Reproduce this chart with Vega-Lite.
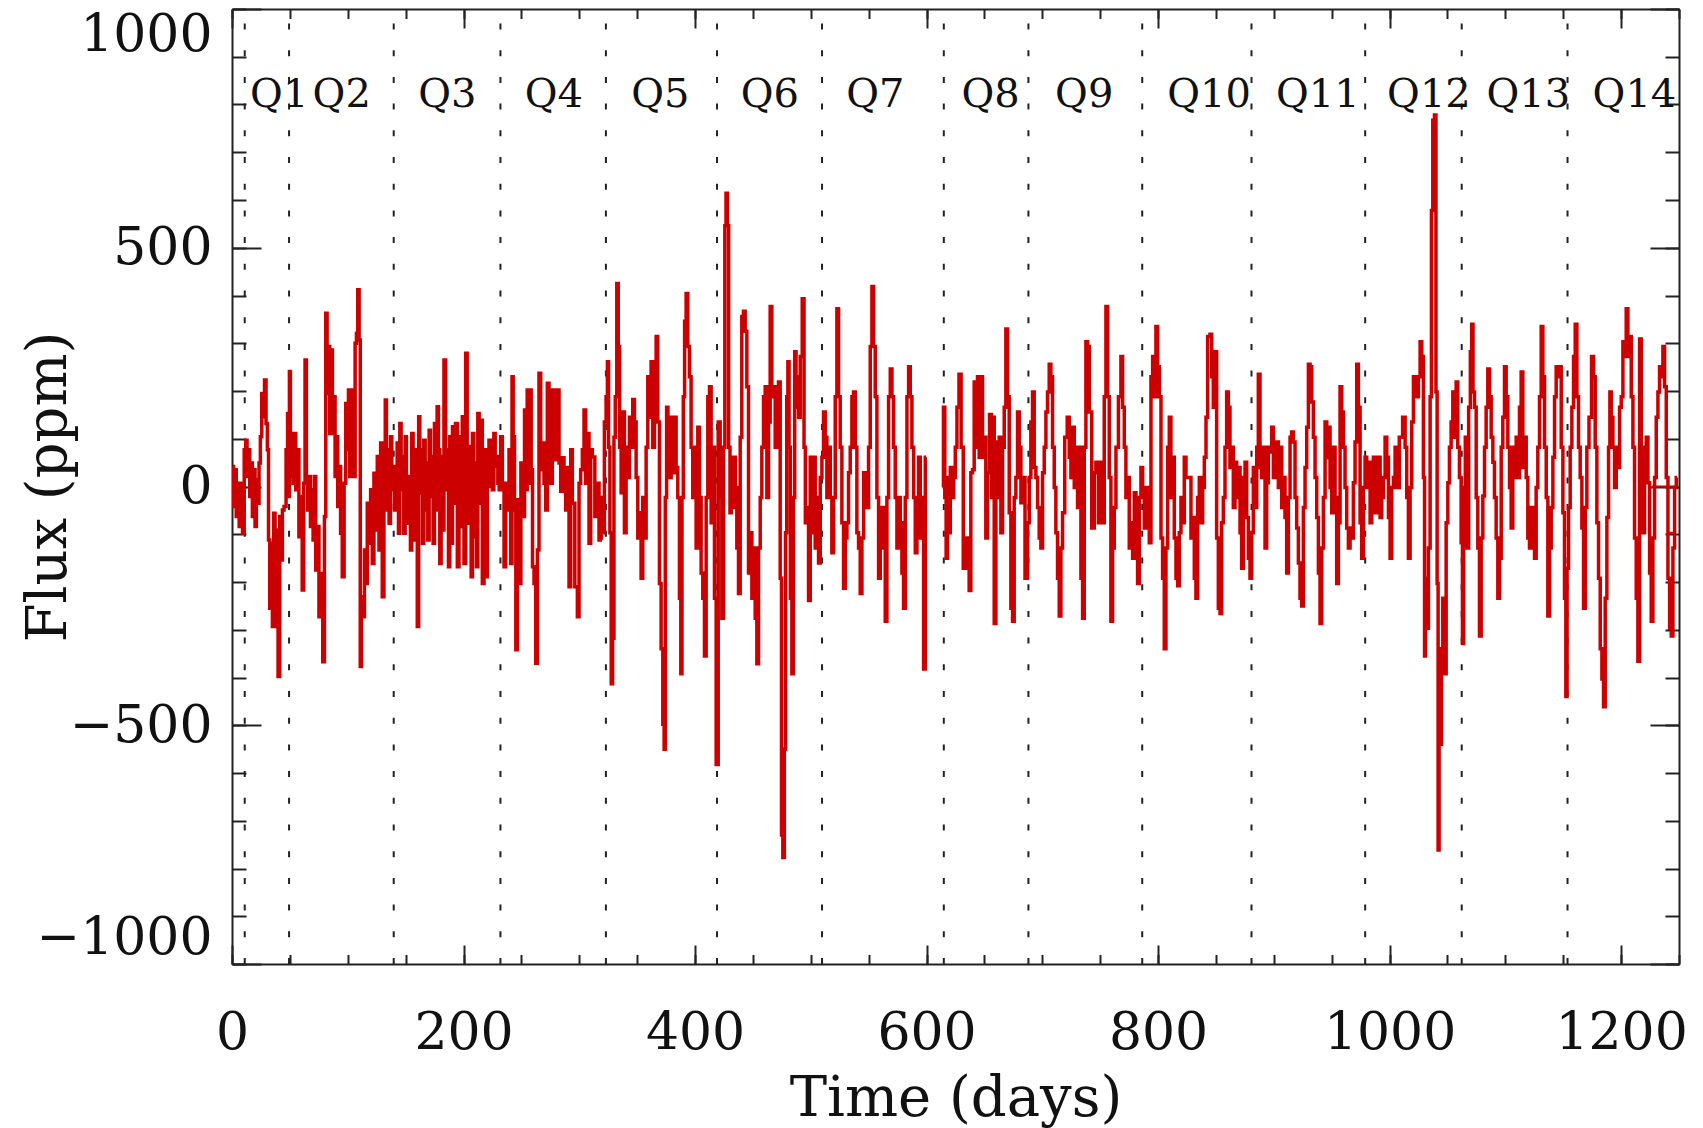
{
  "$schema": "https://vega.github.io/schema/vega-lite/v6.json",
  "width": 1447,
  "height": 955,
  "autosize": {"type": "none"},
  "padding": {"left": 232, "top": 9, "right": 24, "bottom": 164},
  "background": "white",
  "config": {
    "view": {"stroke": null},
    "font": "DejaVu Serif",
    "axis": {
      "grid": false,
      "domainColor": "#222222",
      "tickColor": "#222222",
      "labelColor": "#111111",
      "titleColor": "#111111",
      "labelFont": "DejaVu Serif",
      "titleFont": "DejaVu Serif",
      "labelFontSize": 52,
      "titleFontSize": 56,
      "titleFontWeight": "normal",
      "labelLimit": 500,
      "domainWidth": 2,
      "tickWidth": 2
    }
  },
  "datasets": {
    "quarters": [
      {"day": 11.0}, {"day": 49.3}, {"day": 139.7}, {"day": 231.9}, {"day": 323.0}, {"day": 419.0}, {"day": 509.7},
      {"day": 614.9}, {"day": 688.0}, {"day": 786.3}, {"day": 880.7}, {"day": 978.9}, {"day": 1062.3}, {"day": 1153.7}
    ],
    "qlabels": [
      {"qx": 40.8, "q": "Q1"}, {"qx": 94.8, "q": "Q2"}, {"qx": 186, "q": "Q3"}, {"qx": 278, "q": "Q4"},
      {"qx": 370, "q": "Q5"}, {"qx": 464.7, "q": "Q6"}, {"qx": 555.8, "q": "Q7"}, {"qx": 655.3, "q": "Q8"},
      {"qx": 736.2, "q": "Q9"}, {"qx": 844, "q": "Q10"}, {"qx": 938, "q": "Q11"}, {"qx": 1034, "q": "Q12"},
      {"qx": 1119.8, "q": "Q13"}, {"qx": 1211.5, "q": "Q14"}
    ],
    "marks": [
      {"x0": 1226.7, "x1": 1248.4, "v": 0},
      {"x0": 1239.7, "x1": 1246.9, "v": -97}
    ],
    "flux": [
      {"t":0.9,"f":42,"s":1},{"t":1.8,"f":-42,"s":1},{"t":2.9,"f":35,"s":1},{"t":4.4,"f":-63,"s":1},{"t":5.5,"f":7,"s":1},{"t":6.9,"f":-84,"s":1},{"t":8.4,"f":7,"s":1},{"t":9.8,"f":-98,"s":1},{"t":11.3,"f":77,"s":1},{"t":12.4,"f":97,"s":1},
      {"t":13.6,"f":21,"s":1},{"t":14.7,"f":77,"s":1},{"t":15.9,"f":-21,"s":1},{"t":17.0,"f":49,"s":1},{"t":18.2,"f":-63,"s":1},{"t":19.3,"f":35,"s":1},{"t":20.5,"f":-84,"s":1},{"t":21.6,"f":14,"s":1},{"t":22.8,"f":-35,"s":1},{"t":23.9,"f":49,"s":1},
      {"t":25.1,"f":104,"s":1},{"t":26.3,"f":195,"s":1},{"t":27.4,"f":146,"s":1},{"t":28.8,"f":223,"s":1},{"t":30.0,"f":132,"s":1},{"t":31.1,"f":77,"s":1},{"t":32.0,"f":-112,"s":1},{"t":33.2,"f":-255,"s":1},{"t":34.3,"f":-119,"s":1},{"t":35.5,"f":-293,"s":1},
      {"t":36.6,"f":-56,"s":1},{"t":37.8,"f":-293,"s":1},{"t":38.9,"f":-91,"s":1},{"t":40.7,"f":-398,"s":1},{"t":41.8,"f":-63,"s":1},{"t":43.0,"f":-154,"s":1},{"t":44.1,"f":-49,"s":1},{"t":45.8,"f":-42,"s":1},{"t":47.6,"f":77,"s":1},{"t":48.4,"f":153,"s":1},
      {"t":49.3,"f":-21,"s":1},{"t":49.9,"f":241,"s":1},{"t":51.0,"f":21,"s":1},{"t":52.2,"f":111,"s":1},{"t":53.3,"f":7,"s":1},{"t":54.5,"f":111,"s":1},{"t":55.6,"f":-7,"s":1},{"t":57.1,"f":77,"s":1},{"t":58.5,"f":-105,"s":1},{"t":59.9,"f":-21,"s":1},
      {"t":61.4,"f":-217,"s":1},{"t":62.5,"f":7,"s":1},{"t":63.7,"f":265,"s":1},{"t":64.8,"f":7,"s":1},{"t":66.0,"f":-49,"s":1},{"t":67.2,"f":21,"s":1},{"t":68.3,"f":-84,"s":1},{"t":69.5,"f":-7,"s":1},{"t":70.6,"f":-112,"s":1},{"t":71.8,"f":21,"s":1},
      {"t":72.9,"f":-175,"s":1},{"t":74.4,"f":-84,"s":1},{"t":75.8,"f":-273,"s":1},{"t":77.5,"f":-182,"s":1},{"t":79.3,"f":-367,"s":1},{"t":80.4,"f":-63,"s":1},{"t":81.6,"f":363,"s":1},{"t":82.7,"f":195,"s":1},{"t":83.9,"f":293,"s":1},{"t":85.0,"f":111,"s":1},
      {"t":86.2,"f":286,"s":1},{"t":87.3,"f":111,"s":1},{"t":88.5,"f":188,"s":1},{"t":89.6,"f":21,"s":1},{"t":90.8,"f":104,"s":1},{"t":91.9,"f":-42,"s":1},{"t":93.1,"f":42,"s":1},{"t":94.5,"f":-98,"s":1},{"t":96.0,"f":-189,"s":1},{"t":97.7,"f":7,"s":1},
      {"t":98.8,"f":174,"s":1},{"t":100.0,"f":77,"s":1},{"t":101.2,"f":202,"s":1},{"t":102.3,"f":21,"s":1},{"t":103.5,"f":104,"s":1},{"t":104.6,"f":202,"s":1},{"t":105.8,"f":21,"s":1},{"t":106.9,"f":300,"s":1},{"t":108.1,"f":321,"s":1},{"t":109.2,"f":412,"s":1},
      {"t":110.4,"f":307,"s":1},{"t":111.2,"f":-377,"s":1},{"t":112.4,"f":-231,"s":1},{"t":113.8,"f":-273,"s":1},{"t":115.0,"f":-133,"s":1},{"t":116.1,"f":-203,"s":1},{"t":117.6,"f":-35,"s":1},{"t":119.0,"f":-119,"s":1},{"t":120.5,"f":-7,"s":1},{"t":121.9,"f":-161,"s":1},
      {"t":123.3,"f":28,"s":1},{"t":124.8,"f":-91,"s":1},{"t":126.2,"f":63,"s":1},{"t":127.7,"f":-133,"s":1},{"t":129.1,"f":91,"s":1},{"t":130.5,"f":-231,"s":1},{"t":132.0,"f":14,"s":1},{"t":132.8,"f":181,"s":1},{"t":134.0,"f":-49,"s":1},{"t":135.1,"f":77,"s":1},
      {"t":136.3,"f":-77,"s":1},{"t":137.5,"f":104,"s":1},{"t":138.6,"f":-7,"s":1},{"t":139.8,"f":42,"s":1},{"t":140.9,"f":-49,"s":1},{"t":142.1,"f":7,"s":1},{"t":143.2,"f":91,"s":1},{"t":144.4,"f":-98,"s":1},{"t":145.5,"f":132,"s":1},{"t":146.7,"f":-7,"s":1},
      {"t":147.8,"f":63,"s":1},{"t":149.0,"f":-98,"s":1},{"t":150.1,"f":104,"s":1},{"t":151.3,"f":-28,"s":1},{"t":152.4,"f":-77,"s":1},{"t":153.6,"f":21,"s":1},{"t":154.7,"f":-133,"s":1},{"t":155.9,"f":111,"s":1},{"t":157.0,"f":42,"s":1},{"t":158.2,"f":-112,"s":1},
      {"t":159.3,"f":77,"s":1},{"t":160.8,"f":-293,"s":1},{"t":161.7,"f":146,"s":1},{"t":162.8,"f":-14,"s":1},{"t":164.0,"f":77,"s":1},{"t":165.1,"f":-119,"s":1},{"t":166.3,"f":97,"s":1},{"t":167.4,"f":-49,"s":1},{"t":168.6,"f":49,"s":1},{"t":169.7,"f":-112,"s":1},
      {"t":170.9,"f":118,"s":1},{"t":172.0,"f":-21,"s":1},{"t":173.2,"f":63,"s":1},{"t":174.3,"f":-119,"s":1},{"t":175.5,"f":132,"s":1},{"t":176.6,"f":-49,"s":1},{"t":177.8,"f":167,"s":1},{"t":178.9,"f":77,"s":1},{"t":180.1,"f":-161,"s":1},{"t":181.2,"f":63,"s":1},
      {"t":182.4,"f":-91,"s":1},{"t":183.8,"f":265,"s":1},{"t":185.3,"f":77,"s":1},{"t":186.4,"f":-7,"s":1},{"t":187.6,"f":-168,"s":1},{"t":188.7,"f":104,"s":1},{"t":189.9,"f":-119,"s":1},{"t":191.0,"f":125,"s":1},{"t":192.2,"f":-35,"s":1},{"t":193.9,"f":132,"s":1},
      {"t":195.4,"f":-168,"s":1},{"t":196.8,"f":104,"s":1},{"t":198.2,"f":-84,"s":1},{"t":199.7,"f":146,"s":1},{"t":201.1,"f":-161,"s":1},{"t":202.6,"f":279,"s":1},{"t":203.7,"f":77,"s":1},{"t":204.9,"f":-77,"s":1},{"t":206.0,"f":84,"s":1},{"t":207.2,"f":-189,"s":1},
      {"t":208.3,"f":111,"s":1},{"t":209.5,"f":-105,"s":1},{"t":210.6,"f":49,"s":1},{"t":211.8,"f":-168,"s":1},{"t":212.9,"f":153,"s":1},{"t":214.1,"f":-35,"s":1},{"t":215.5,"f":139,"s":1},{"t":217.0,"f":-203,"s":1},{"t":218.4,"f":77,"s":1},{"t":219.8,"f":-189,"s":1},
      {"t":221.3,"f":0,"s":1},{"t":222.7,"f":97,"s":1},{"t":224.2,"f":49,"s":1},{"t":225.6,"f":-7,"s":1},{"t":226.8,"f":111,"s":1},{"t":227.9,"f":42,"s":1},{"t":229.1,"f":63,"s":1},{"t":230.2,"f":7,"s":1},{"t":231.4,"f":-7,"s":1},{"t":232.8,"f":104,"s":1},
      {"t":234.3,"f":7,"s":1},{"t":235.7,"f":-168,"s":1},{"t":237.1,"f":7,"s":1},{"t":238.6,"f":-49,"s":1},{"t":240.0,"f":77,"s":1},{"t":241.5,"f":-161,"s":1},{"t":242.3,"f":230,"s":1},{"t":243.5,"f":104,"s":1},{"t":244.6,"f":-49,"s":1},{"t":245.8,"f":-342,"s":1},
      {"t":247.2,"f":-28,"s":1},{"t":248.7,"f":-203,"s":1},{"t":250.4,"f":49,"s":1},{"t":252.1,"f":-63,"s":1},{"t":253.3,"f":160,"s":1},{"t":254.4,"f":-7,"s":1},{"t":255.6,"f":202,"s":1},{"t":256.7,"f":7,"s":1},{"t":257.9,"f":202,"s":1},{"t":259.0,"f":35,"s":1},
      {"t":260.2,"f":-168,"s":1},{"t":261.6,"f":-203,"s":1},{"t":263.1,"f":-370,"s":1},{"t":264.5,"f":-133,"s":1},{"t":265.9,"f":237,"s":1},{"t":267.4,"f":35,"s":1},{"t":268.8,"f":91,"s":1},{"t":270.3,"f":7,"s":1},{"t":271.7,"f":-49,"s":1},{"t":273.1,"f":216,"s":1},
      {"t":274.6,"f":77,"s":1},{"t":276.0,"f":7,"s":1},{"t":277.5,"f":202,"s":1},{"t":278.9,"f":56,"s":1},{"t":281.8,"f":202,"s":1},{"t":283.2,"f":49,"s":1},{"t":284.7,"f":-10,"s":1},{"t":286.1,"f":60,"s":1},{"t":287.5,"f":7,"s":1},{"t":289.0,"f":-49,"s":1},
      {"t":290.4,"f":40,"s":1},{"t":291.9,"f":-210,"s":1},{"t":293.3,"f":77,"s":1},{"t":294.7,"f":-35,"s":1},{"t":297.6,"f":-210,"s":1},{"t":299.1,"f":-273,"s":1},{"t":300.5,"f":7,"s":1},{"t":301.9,"f":35,"s":1},{"t":303.4,"f":77,"s":1},{"t":304.8,"f":160,"s":1},
      {"t":306.3,"f":7,"s":1},{"t":307.7,"f":111,"s":1},{"t":309.1,"f":-119,"s":1},{"t":310.6,"f":77,"s":1},{"t":312.0,"f":62,"s":1},{"t":314.9,"f":-63,"s":1},{"t":316.3,"f":7,"s":1},{"t":317.8,"f":-112,"s":1},
      {"t":318.6,"f":-108,"s":1},{"t":319.6,"f":-23,"s":1},{"t":321.0,"f":-97,"s":1},{"t":322.4,"f":135,"s":1},{"t":323.9,"f":188,"s":1},{"t":324.7,"f":261,"s":1},{"t":325.9,"f":82,"s":1},{"t":327.0,"f":-97,"s":1},{"t":328.2,"f":-413,"s":1},{"t":329.4,"f":-318,"s":1},
      {"t":330.5,"f":103,"s":1},{"t":331.7,"f":188,"s":1},{"t":333.1,"f":425,"s":1},{"t":334.2,"f":293,"s":1},{"t":335.4,"f":82,"s":1},{"t":336.9,"f":-13,"s":1},{"t":338.3,"f":156,"s":1},{"t":339.7,"f":-97,"s":1},{"t":341.2,"f":82,"s":1},{"t":342.6,"f":19,"s":1},
      {"t":344.0,"f":145,"s":1},{"t":345.5,"f":82,"s":1},{"t":346.9,"f":182,"s":1},{"t":348.4,"f":135,"s":1},{"t":349.8,"f":19,"s":1},{"t":351.3,"f":-108,"s":1},{"t":352.7,"f":-55,"s":1},{"t":354.1,"f":-192,"s":1},{"t":355.6,"f":-23,"s":1},{"t":357.0,"f":-108,"s":1},
      {"t":358.5,"f":82,"s":1},{"t":359.9,"f":230,"s":1},{"t":361.3,"f":145,"s":1},{"t":362.8,"f":261,"s":1},{"t":364.2,"f":82,"s":1},{"t":365.7,"f":188,"s":1},{"t":367.1,"f":314,"s":1},{"t":368.5,"f":135,"s":1},{"t":370.0,"f":-203,"s":1},{"t":371.4,"f":-340,"s":1},
      {"t":372.9,"f":-498,"s":1},{"t":373.7,"f":-550,"s":1},{"t":374.9,"f":-23,"s":1},{"t":376.0,"f":166,"s":1},{"t":377.2,"f":135,"s":1},{"t":378.6,"f":19,"s":1},{"t":380.1,"f":145,"s":1},{"t":381.5,"f":29,"s":1},{"t":382.9,"f":145,"s":1},{"t":384.4,"f":40,"s":1},
      {"t":385.8,"f":-23,"s":1},{"t":387.3,"f":-234,"s":1},{"t":388.1,"f":-392,"s":1},{"t":389.3,"f":-23,"s":1},{"t":390.4,"f":188,"s":1},{"t":391.6,"f":346,"s":1},{"t":393.0,"f":404,"s":1},{"t":394.5,"f":293,"s":1},{"t":395.9,"f":230,"s":1},{"t":397.3,"f":82,"s":1},
      {"t":398.8,"f":-23,"s":1},{"t":400.2,"f":82,"s":1},{"t":401.7,"f":-129,"s":1},{"t":403.1,"f":124,"s":1},{"t":404.5,"f":-23,"s":1},{"t":406.0,"f":-181,"s":1},{"t":407.4,"f":-234,"s":1},{"t":408.9,"f":-355,"s":1},{"t":410.3,"f":-23,"s":1},{"t":411.8,"f":188,"s":1},
      {"t":413.2,"f":209,"s":1},{"t":414.6,"f":-76,"s":1},{"t":416.1,"f":82,"s":1},{"t":417.5,"f":-234,"s":1},{"t":419.0,"f":-582,"s":1},
      {"t":421.0,"f":135,"s":1},{"t":422.4,"f":-23,"s":1},{"t":423.9,"f":-276,"s":1},{"t":425.3,"f":82,"s":1},{"t":426.2,"f":546,"s":1},{"t":427.3,"f":614,"s":1},{"t":428.5,"f":546,"s":1},{"t":429.6,"f":82,"s":1},{"t":430.8,"f":-55,"s":1},{"t":431.9,"f":61,"s":1},
      {"t":433.1,"f":-44,"s":1},{"t":434.2,"f":61,"s":1},{"t":435.4,"f":-2,"s":1},{"t":436.8,"f":-129,"s":1},{"t":438.3,"f":-224,"s":1},{"t":439.7,"f":103,"s":1},{"t":441.1,"f":356,"s":1},{"t":442.6,"f":367,"s":1},{"t":444.0,"f":325,"s":1},{"t":445.5,"f":209,"s":1},
      {"t":446.9,"f":-181,"s":1},{"t":448.4,"f":-97,"s":1},{"t":449.8,"f":-234,"s":1},{"t":451.2,"f":-129,"s":1},{"t":452.7,"f":-276,"s":1},{"t":454.1,"f":-371,"s":1},{"t":455.6,"f":-129,"s":1},{"t":457.0,"f":-23,"s":1},{"t":458.4,"f":82,"s":1},{"t":459.9,"f":188,"s":1},
      {"t":461.3,"f":209,"s":1},{"t":462.8,"f":-23,"s":1},{"t":464.2,"f":135,"s":1},{"t":465.6,"f":377,"s":1},{"t":467.1,"f":188,"s":1},{"t":468.5,"f":209,"s":1},{"t":470.0,"f":82,"s":1},{"t":471.4,"f":93,"s":1},{"t":472.8,"f":219,"s":1},{"t":474.3,"f":-192,"s":1},
      {"t":475.1,"f":-730,"s":1},{"t":476.6,"f":-777,"s":1},{"t":477.7,"f":-550,"s":1},{"t":478.6,"f":-97,"s":1},{"t":479.8,"f":188,"s":1},{"t":480.6,"f":261,"s":1},{"t":481.8,"f":82,"s":1},{"t":482.9,"f":-234,"s":1},{"t":484.4,"f":-392,"s":1},{"t":485.5,"f":-23,"s":1},
      {"t":486.7,"f":282,"s":1},{"t":487.8,"f":166,"s":1},{"t":489.0,"f":230,"s":1},{"t":490.1,"f":145,"s":1},{"t":491.6,"f":272,"s":1},{"t":493.6,"f":393,"s":1},{"t":494.7,"f":82,"s":1},{"t":495.9,"f":-76,"s":1},{"t":497.3,"f":-44,"s":1},{"t":498.8,"f":-239,"s":1},
      {"t":500.2,"f":61,"s":1},{"t":501.6,"f":-97,"s":1},{"t":503.1,"f":61,"s":1},{"t":504.5,"f":-129,"s":1},{"t":506.0,"f":-23,"s":1},{"t":507.4,"f":-160,"s":1},{"t":508.9,"f":19,"s":1},{"t":510.3,"f":61,"s":1},{"t":511.7,"f":156,"s":1},{"t":513.2,"f":103,"s":1},
      {"t":514.6,"f":-23,"s":1},{"t":516.1,"f":82,"s":1},{"t":517.5,"f":-23,"s":1},{"t":518.9,"f":-139,"s":1},{"t":520.4,"f":-23,"s":1},{"t":521.8,"f":188,"s":1},{"t":523.3,"f":372,"s":1},{"t":524.7,"f":188,"s":1},{"t":526.1,"f":82,"s":1},{"t":527.6,"f":-76,"s":1},
      {"t":529.0,"f":-213,"s":1},{"t":530.5,"f":-108,"s":1},{"t":531.9,"f":-76,"s":1},{"t":533.3,"f":29,"s":1},{"t":534.8,"f":82,"s":1},{"t":536.2,"f":188,"s":1},{"t":537.7,"f":198,"s":1},{"t":539.1,"f":82,"s":1},{"t":540.5,"f":-97,"s":1},{"t":542.0,"f":-129,"s":1},
      {"t":543.4,"f":-224,"s":1},{"t":544.9,"f":-108,"s":1},{"t":546.3,"f":29,"s":1},{"t":547.7,"f":-23,"s":1},{"t":549.2,"f":-44,"s":1},{"t":550.6,"f":82,"s":1},{"t":552.1,"f":293,"s":1},{"t":553.5,"f":419,"s":1},{"t":554.9,"f":293,"s":1},{"t":556.4,"f":188,"s":1},
      {"t":557.8,"f":-23,"s":1},{"t":559.3,"f":-192,"s":1},{"t":560.7,"f":-76,"s":1},{"t":562.2,"f":-44,"s":1},{"t":563.6,"f":-129,"s":1},{"t":565.0,"f":-282,"s":1},{"t":566.5,"f":-23,"s":1},{"t":567.9,"f":188,"s":1},{"t":569.4,"f":246,"s":1},{"t":570.8,"f":188,"s":1},
      {"t":572.2,"f":82,"s":1},{"t":573.7,"f":-23,"s":1},{"t":575.1,"f":-129,"s":1},{"t":576.6,"f":-23,"s":1},{"t":578.0,"f":-76,"s":1},{"t":579.4,"f":-181,"s":1},{"t":580.9,"f":-255,"s":1},{"t":582.3,"f":-23,"s":1},{"t":583.8,"f":188,"s":1},{"t":585.2,"f":251,"s":1},
      {"t":586.6,"f":188,"s":1},{"t":588.1,"f":82,"s":1},{"t":589.5,"f":-23,"s":1},{"t":591.0,"f":-139,"s":1},{"t":592.4,"f":-23,"s":1},{"t":593.8,"f":61,"s":1},{"t":595.3,"f":-108,"s":1},{"t":596.7,"f":-23,"s":1},{"t":598.2,"f":-382,"s":1},{"t":599.6,"f":61,"s":1},
      {"t":614.0,"f":-2,"s":2},{"t":615.2,"f":166,"s":2},{"t":616.3,"f":-23,"s":2},{"t":617.5,"f":-150,"s":2},{"t":618.6,"f":19,"s":2},{"t":619.8,"f":-97,"s":2},{"t":621.2,"f":40,"s":2},{"t":622.7,"f":-23,"s":2},{"t":624.1,"f":19,"s":2},{"t":625.5,"f":82,"s":2},
      {"t":627.0,"f":166,"s":2},{"t":629.0,"f":235,"s":2},{"t":630.7,"f":82,"s":2},{"t":632.7,"f":-171,"s":2},{"t":633.2,"f":-171,"s":2},{"t":636.1,"f":-108,"s":2},{"t":637.5,"f":-218,"s":2},{"t":639.0,"f":29,"s":2},{"t":640.4,"f":35,"s":2},{"t":641.9,"f":219,"s":2},
      {"t":643.3,"f":82,"s":2},{"t":644.7,"f":230,"s":2},{"t":646.2,"f":61,"s":2},{"t":647.6,"f":230,"s":2},{"t":649.1,"f":61,"s":2},{"t":650.5,"f":103,"s":2},{"t":651.9,"f":-108,"s":2},{"t":653.4,"f":29,"s":2},{"t":655.4,"f":151,"s":2},{"t":656.8,"f":-23,"s":2},
      {"t":657.7,"f":145,"s":2},{"t":659.2,"f":-287,"s":2},{"t":660.6,"f":-23,"s":2},{"t":662.0,"f":93,"s":2},{"t":663.5,"f":103,"s":2},{"t":664.9,"f":-97,"s":2},{"t":666.4,"f":82,"s":2},{"t":667.8,"f":166,"s":2},{"t":669.2,"f":330,"s":2},{"t":670.7,"f":188,"s":2},
      {"t":672.1,"f":-55,"s":2},{"t":673.6,"f":-255,"s":2},{"t":675.0,"f":-282,"s":2},{"t":676.4,"f":-23,"s":2},{"t":677.9,"f":19,"s":2},{"t":679.3,"f":156,"s":2},{"t":680.8,"f":82,"s":2},{"t":682.2,"f":-34,"s":2},{"t":683.6,"f":19,"s":2},{"t":686.5,"f":-192,"s":2},
      {"t":688.0,"f":-76,"s":2},{"t":689.4,"f":19,"s":2},{"t":690.8,"f":135,"s":2},{"t":692.3,"f":198,"s":2},{"t":693.7,"f":40,"s":2},{"t":695.2,"f":19,"s":2},{"t":696.6,"f":-44,"s":2},{"t":698.0,"f":-108,"s":2},{"t":699.5,"f":-129,"s":2},{"t":700.9,"f":29,"s":2},
      {"t":702.4,"f":82,"s":2},{"t":703.8,"f":156,"s":2},{"t":705.2,"f":198,"s":2},{"t":706.7,"f":256,"s":2},{"t":708.1,"f":230,"s":2},{"t":709.6,"f":82,"s":2},{"t":711.0,"f":-2,"s":2},{"t":712.4,"f":-97,"s":2},{"t":713.9,"f":-192,"s":2},{"t":715.3,"f":-271,"s":2},
      {"t":716.8,"f":-129,"s":2},{"t":718.2,"f":-55,"s":2},{"t":720.5,"f":103,"s":2},{"t":722.5,"f":145,"s":2},{"t":724.0,"f":61,"s":2},{"t":725.4,"f":19,"s":2},{"t":726.9,"f":124,"s":2},{"t":728.3,"f":-2,"s":2},{"t":729.7,"f":82,"s":2},{"t":731.2,"f":-44,"s":2},
      {"t":732.6,"f":82,"s":2},{"t":734.1,"f":-192,"s":2},{"t":735.5,"f":-276,"s":2},{"t":736.9,"f":82,"s":2},{"t":738.4,"f":303,"s":2},{"t":739.8,"f":293,"s":2},{"t":741.3,"f":156,"s":2},{"t":744.1,"f":-87,"s":2},{"t":745.6,"f":29,"s":2},{"t":747.0,"f":51,"s":2},
      {"t":749.9,"f":-76,"s":2},{"t":751.3,"f":51,"s":2},{"t":752.8,"f":-76,"s":2},{"t":754.2,"f":188,"s":2},{"t":755.7,"f":377,"s":2},{"t":757.1,"f":188,"s":2},{"t":758.5,"f":19,"s":2},{"t":760.0,"f":-282,"s":2},{"t":761.4,"f":-129,"s":2},{"t":762.9,"f":-44,"s":2},
      {"t":764.3,"f":82,"s":2},{"t":767.2,"f":188,"s":2},{"t":768.6,"f":272,"s":2},{"t":770.1,"f":166,"s":2},{"t":771.5,"f":82,"s":2},{"t":772.9,"f":-23,"s":2},{"t":774.4,"f":19,"s":2},{"t":775.8,"f":-129,"s":2},{"t":777.3,"f":-76,"s":2},{"t":778.7,"f":-150,"s":2},
      {"t":780.2,"f":-13,"s":2},{"t":781.6,"f":-108,"s":2},{"t":783.0,"f":-203,"s":2},{"t":784.5,"f":-23,"s":2},{"t":785.9,"f":40,"s":2},{"t":787.4,"f":-23,"s":2},{"t":788.8,"f":-87,"s":2},{"t":790.2,"f":-2,"s":2},{"t":791.7,"f":-23,"s":2},{"t":793.1,"f":-118,"s":2},
      {"t":794.6,"f":230,"s":2},{"t":796.0,"f":272,"s":2},{"t":797.4,"f":188,"s":2},{"t":798.9,"f":335,"s":2},{"t":800.3,"f":251,"s":2},{"t":801.8,"f":188,"s":2},{"t":803.2,"f":-108,"s":2},{"t":804.6,"f":-192,"s":2},{"t":806.1,"f":-340,"s":2},{"t":807.5,"f":-129,"s":2},
      {"t":809.0,"f":82,"s":2},{"t":810.4,"f":145,"s":2},{"t":811.8,"f":-23,"s":2},{"t":813.3,"f":61,"s":2},{"t":814.7,"f":-108,"s":2},{"t":816.2,"f":-192,"s":2},{"t":817.6,"f":-208,"s":2},{"t":819.0,"f":-97,"s":2},{"t":820.5,"f":-23,"s":2},{"t":821.9,"f":-76,"s":2},
      {"t":823.4,"f":61,"s":2},{"t":824.8,"f":19,"s":2},{"t":827.7,"f":19,"s":2},{"t":829.1,"f":-108,"s":2},{"t":830.6,"f":-65,"s":2},{"t":832.0,"f":-192,"s":2},{"t":833.4,"f":-234,"s":2},{"t":834.9,"f":-23,"s":2},{"t":836.3,"f":19,"s":2},{"t":837.8,"f":-76,"s":2},
      {"t":839.2,"f":-2,"s":2},{"t":840.7,"f":61,"s":2},{"t":842.1,"f":145,"s":2},{"t":843.5,"f":314,"s":2},
      {"t":844.1,"f":314,"s":2},{"t":845.6,"f":319,"s":2},{"t":847.0,"f":230,"s":2},{"t":848.4,"f":166,"s":2},{"t":849.9,"f":282,"s":2},{"t":851.3,"f":-108,"s":2},{"t":852.8,"f":-255,"s":2},{"t":854.2,"f":-266,"s":2},{"t":855.6,"f":-76,"s":2},{"t":857.1,"f":-23,"s":2},
      {"t":858.5,"f":82,"s":2},{"t":860.0,"f":198,"s":2},{"t":861.4,"f":166,"s":2},{"t":862.8,"f":40,"s":2},{"t":864.3,"f":82,"s":2},{"t":865.7,"f":-44,"s":2},{"t":867.2,"f":51,"s":2},{"t":868.6,"f":-23,"s":2},{"t":870.1,"f":40,"s":2},{"t":871.5,"f":-97,"s":2},
      {"t":872.9,"f":-171,"s":2},{"t":874.4,"f":19,"s":2},{"t":875.8,"f":51,"s":2},{"t":877.3,"f":-65,"s":2},{"t":878.7,"f":-150,"s":2},{"t":880.1,"f":-192,"s":2},{"t":881.6,"f":-97,"s":2},{"t":883.0,"f":40,"s":2},{"t":884.5,"f":-44,"s":2},{"t":885.9,"f":82,"s":2},
      {"t":887.3,"f":235,"s":2},{"t":888.8,"f":40,"s":2},{"t":890.2,"f":19,"s":2},{"t":891.7,"f":82,"s":2},{"t":893.1,"f":-129,"s":2},{"t":894.5,"f":8,"s":2},{"t":896.0,"f":82,"s":2},{"t":897.4,"f":72,"s":2},{"t":898.9,"f":124,"s":2},{"t":900.3,"f":19,"s":2},
      {"t":901.7,"f":82,"s":2},{"t":903.2,"f":93,"s":2},{"t":904.6,"f":-2,"s":2},{"t":906.1,"f":82,"s":2},{"t":907.5,"f":-44,"s":2},{"t":908.9,"f":19,"s":2},{"t":910.4,"f":-65,"s":2},{"t":911.8,"f":-181,"s":2},{"t":913.3,"f":-23,"s":2},{"t":914.7,"f":103,"s":2},
      {"t":916.1,"f":114,"s":2},{"t":917.6,"f":93,"s":2},{"t":919.0,"f":-23,"s":2},{"t":920.5,"f":-87,"s":2},{"t":921.9,"f":-160,"s":2},{"t":923.3,"f":-234,"s":2},{"t":924.8,"f":-250,"s":2},{"t":926.2,"f":-44,"s":2},{"t":927.7,"f":40,"s":2},{"t":929.1,"f":124,"s":2},
      {"t":930.6,"f":256,"s":2},{"t":932.0,"f":251,"s":2},{"t":933.4,"f":177,"s":2},{"t":934.9,"f":103,"s":2},{"t":936.3,"f":19,"s":2},{"t":937.8,"f":-65,"s":2},{"t":939.2,"f":-181,"s":2},{"t":940.6,"f":-287,"s":2},{"t":942.1,"f":-129,"s":2},{"t":943.5,"f":-23,"s":2},
      {"t":945.0,"f":135,"s":2},{"t":946.4,"f":60,"s":2},{"t":947.8,"f":124,"s":2},{"t":949.3,"f":-2,"s":2},{"t":950.7,"f":-55,"s":2},{"t":952.2,"f":82,"s":2},{"t":953.6,"f":-23,"s":2},{"t":955.0,"f":-203,"s":2},{"t":956.5,"f":-76,"s":2},{"t":957.9,"f":209,"s":2},
      {"t":959.4,"f":156,"s":2},{"t":960.8,"f":82,"s":2},{"t":962.2,"f":-2,"s":2},{"t":963.7,"f":-87,"s":2},{"t":965.1,"f":-129,"s":2},{"t":966.6,"f":-87,"s":2},{"t":968.0,"f":-108,"s":2},{"t":969.4,"f":8,"s":2},{"t":970.9,"f":93,"s":2},{"t":972.3,"f":256,"s":2},
      {"t":973.8,"f":166,"s":2},{"t":975.2,"f":-76,"s":2},{"t":976.6,"f":-150,"s":2},{"t":978.1,"f":-2,"s":2},{"t":979.5,"f":61,"s":2},{"t":981.0,"f":-2,"s":2},{"t":982.4,"f":51,"s":2},{"t":983.9,"f":-76,"s":2},{"t":985.3,"f":19,"s":2},{"t":986.7,"f":61,"s":2},
      {"t":988.2,"f":-55,"s":2},{"t":989.6,"f":19,"s":2},{"t":991.1,"f":61,"s":2},{"t":992.5,"f":-65,"s":2},{"t":993.9,"f":-23,"s":2},{"t":995.4,"f":19,"s":2},{"t":996.8,"f":103,"s":2},{"t":998.3,"f":61,"s":2},{"t":999.7,"f":-65,"s":2},{"t":1001.1,"f":-150,"s":2},
      {"t":1002.6,"f":-2,"s":2},{"t":1004.0,"f":19,"s":2},{"t":1005.5,"f":82,"s":2},{"t":1006.9,"f":-2,"s":2},{"t":1009.8,"f":103,"s":2},{"t":1012.7,"f":145,"s":2},{"t":1014.1,"f":82,"s":2},{"t":1015.5,"f":-23,"s":2},{"t":1017.0,"f":-150,"s":2},{"t":1018.4,"f":-2,"s":2},
      {"t":1019.9,"f":135,"s":2},{"t":1021.3,"f":230,"s":2},{"t":1024.2,"f":188,"s":2},{"t":1025.6,"f":230,"s":2},{"t":1027.1,"f":303,"s":2},{"t":1028.5,"f":272,"s":2},{"t":1029.9,"f":19,"s":2},{"t":1030.5,"f":-355,"s":2},{"t":1031.4,"f":-192,"s":2},{"t":1032.8,"f":-297,"s":2},
      {"t":1034.3,"f":-129,"s":2},{"t":1035.7,"f":188,"s":2},{"t":1036.6,"f":578,"s":2},{"t":1038.0,"f":767,"s":2},{"t":1039.5,"f":778,"s":2},{"t":1040.6,"f":198,"s":2},{"t":1041.5,"f":-203,"s":2},{"t":1042.3,"f":-761,"s":2},{"t":1043.2,"f":-340,"s":2},{"t":1044.4,"f":-540,"s":2},
      {"t":1045.2,"f":-392,"s":2},{"t":1046.7,"f":-234,"s":2},{"t":1048.1,"f":-392,"s":2},{"t":1049.6,"f":-76,"s":2},{"t":1051.0,"f":8,"s":2},{"t":1052.4,"f":82,"s":2},{"t":1053.9,"f":135,"s":2},{"t":1055.3,"f":198,"s":2},{"t":1056.8,"f":103,"s":2},{"t":1058.2,"f":219,"s":2},
      {"t":1059.6,"f":82,"s":2},{"t":1061.1,"f":19,"s":2},{"t":1062.5,"f":-118,"s":2},{"t":1063.4,"f":-329,"s":2},{"t":1064.5,"f":-2,"s":2},{"t":1066.3,"f":103,"s":2},{"t":1067.4,"f":-129,"s":2},{"t":1069.2,"f":166,"s":2},{"t":1070.3,"f":282,"s":2},{"t":1071.5,"f":340,"s":2},
      {"t":1072.6,"f":198,"s":2},{"t":1074.1,"f":166,"s":2},{"t":1075.5,"f":-23,"s":2},{"t":1076.9,"f":-129,"s":2},{"t":1078.4,"f":-313,"s":2},{"t":1079.8,"f":-108,"s":2},{"t":1081.3,"f":-20,"s":2},{"t":1082.7,"f":82,"s":2},{"t":1084.1,"f":166,"s":2},{"t":1085.6,"f":246,"s":2},
      {"t":1087.0,"f":188,"s":2},{"t":1088.5,"f":103,"s":2},{"t":1089.9,"f":51,"s":2},{"t":1091.3,"f":-23,"s":2},{"t":1092.8,"f":-108,"s":2},{"t":1094.2,"f":-234,"s":2},{"t":1095.7,"f":-150,"s":2},{"t":1097.1,"f":82,"s":2},{"t":1098.5,"f":145,"s":2},{"t":1100.0,"f":251,"s":2},
      {"t":1101.4,"f":188,"s":2},{"t":1102.9,"f":82,"s":2},{"t":1104.3,"f":-2,"s":2},{"t":1105.7,"f":-87,"s":2},{"t":1107.2,"f":82,"s":2},{"t":1108.6,"f":19,"s":2},{"t":1110.1,"f":103,"s":2},{"t":1111.5,"f":19,"s":2},{"t":1112.9,"f":166,"s":2},{"t":1114.4,"f":240,"s":2},
      {"t":1115.8,"f":40,"s":2},{"t":1117.3,"f":103,"s":2},{"t":1118.7,"f":19,"s":2},{"t":1120.1,"f":-108,"s":2},{"t":1121.6,"f":-129,"s":2},{"t":1123.0,"f":-44,"s":2},{"t":1124.5,"f":-118,"s":2},{"t":1125.9,"f":-150,"s":2},{"t":1127.3,"f":-2,"s":2},{"t":1128.8,"f":82,"s":2},
      {"t":1130.2,"f":188,"s":2},{"t":1131.7,"f":335,"s":2},{"t":1133.1,"f":230,"s":2},{"t":1134.6,"f":82,"s":2},{"t":1136.0,"f":-23,"s":2},{"t":1137.4,"f":-271,"s":2},{"t":1138.9,"f":-129,"s":2},{"t":1140.3,"f":-44,"s":2},{"t":1141.8,"f":61,"s":2},{"t":1143.2,"f":188,"s":2},
      {"t":1144.6,"f":251,"s":2},{"t":1146.1,"f":230,"s":2},{"t":1147.5,"f":251,"s":2},{"t":1149.0,"f":82,"s":2},{"t":1150.4,"f":-55,"s":2},{"t":1151.8,"f":-234,"s":2},{"t":1152.7,"f":-440,"s":2},{"t":1153.9,"f":-171,"s":2},{"t":1155.3,"f":-44,"s":2},{"t":1156.7,"f":82,"s":2},
      {"t":1158.2,"f":166,"s":2},{"t":1159.6,"f":272,"s":2},{"t":1161.1,"f":340,"s":2},{"t":1162.5,"f":188,"s":2},{"t":1163.9,"f":82,"s":2},{"t":1165.4,"f":19,"s":2},{"t":1166.8,"f":-87,"s":2},{"t":1168.3,"f":-255,"s":2},{"t":1169.7,"f":-44,"s":2},{"t":1171.1,"f":82,"s":2},
      {"t":1173.4,"f":145,"s":2},{"t":1175.5,"f":272,"s":2},{"t":1176.9,"f":230,"s":2},{"t":1178.3,"f":82,"s":2},{"t":1179.8,"f":-76,"s":2},{"t":1181.2,"f":-192,"s":2},{"t":1182.7,"f":-340,"s":2},{"t":1184.1,"f":-403,"s":2},{"t":1185.5,"f":-461,"s":2},{"t":1187.0,"f":-234,"s":2},
      {"t":1188.4,"f":-65,"s":2},{"t":1189.9,"f":82,"s":2},{"t":1190.7,"f":198,"s":2},{"t":1192.2,"f":145,"s":2},{"t":1193.6,"f":82,"s":2},{"t":1195.1,"f":-2,"s":2},{"t":1196.5,"f":82,"s":2},{"t":1197.9,"f":40,"s":2},{"t":1199.4,"f":166,"s":2},{"t":1200.8,"f":188,"s":2},
      {"t":1202.3,"f":303,"s":2},{"t":1203.7,"f":272,"s":2},{"t":1205.1,"f":372,"s":2},{"t":1206.6,"f":272,"s":2},{"t":1208.0,"f":314,"s":2},{"t":1209.5,"f":188,"s":2},{"t":1210.9,"f":82,"s":2},{"t":1212.3,"f":-108,"s":2},{"t":1213.8,"f":-234,"s":2},{"t":1215.2,"f":-366,"s":2},
      {"t":1216.7,"f":309,"s":2},{"t":1218.1,"f":82,"s":2},{"t":1219.5,"f":-97,"s":2},{"t":1221.0,"f":19,"s":2},{"t":1222.4,"f":103,"s":2},{"t":1223.9,"f":8,"s":2},{"t":1225.3,"f":-181,"s":2},{"t":1226.7,"f":-282,"s":2},{"t":1228.2,"f":-108,"s":2},{"t":1229.6,"f":19,"s":2},
      {"t":1231.1,"f":145,"s":2},{"t":1232.5,"f":198,"s":2},{"t":1233.9,"f":251,"s":2},{"t":1235.4,"f":230,"s":2},{"t":1236.8,"f":293,"s":2},{"t":1238.3,"f":209,"s":2},{"t":1239.7,"f":19,"s":2},{"t":1241.2,"f":-192,"s":2},{"t":1242.6,"f":-297,"s":2},{"t":1244.0,"f":-313,"s":2},
      {"t":1245.5,"f":-129,"s":2},{"t":1246.9,"f":-2,"s":2},{"t":1248.4,"f":19,"s":2}
    ]
  },
  "layer": [
    {
      "data": {"name": "quarters"},
      "mark": {"type": "rule", "color": "#222222", "strokeWidth": 2, "strokeDash": [6, 20.7]},
      "encoding": {
        "x": {"field": "day", "type": "quantitative", "scale": {"domain": [0, 1250], "nice": false, "zero": false},
              "axis": {"orient": "bottom", "values": [0,50,100,150,200,250,300,350,400,450,500,550,600,650,700,750,800,850,900,950,1000,1050,1100,1150,1200,1250], "labels": false, "domain": false, "tickSize": -9.5, "title": null}},
        "y": {"datum": -1000, "type": "quantitative", "scale": {"domain": [-1000, 1000], "nice": false, "zero": false},
              "axis": {"orient": "left", "values": [-1000,-900,-800,-700,-600,-500,-400,-300,-200,-100,0,100,200,300,400,500,600,700,800,900,1000], "labels": false, "domain": false, "tickSize": -14, "title": null}},
        "y2": {"datum": 1000}
      }
    },
    {
      "data": {"name": "flux"},
      "transform": [{"filter": "datum.s == 1"}],
      "mark": {"type": "line", "color": "#cc0000", "strokeWidth": 3.5, "interpolate": "step", "clip": true},
      "encoding": {
        "x": {"field": "t", "type": "quantitative", "scale": {"domain": [0, 1250], "nice": false, "zero": false},
              "axis": {"orient": "bottom", "values": [0,200,400,600,800,1000,1200], "format": "d", "ticks": false, "domain": true, "labelPadding": 43, "labelFlush": false, "labelOverlap": false,
                       "title": "Time (days)", "titleY": 151, "titleBaseline": "alphabetic"}},
        "y": {"field": "f", "type": "quantitative", "scale": {"domain": [-1000, 1000], "nice": false, "zero": false},
              "axis": {"orient": "left", "values": [-1000,-500,0,500,1000], "format": "d", "ticks": false, "domain": true, "labelPadding": 20, "labelFlush": true, "labelOverlap": false,
                       "title": "Flux (ppm)", "titleX": -167, "titleAngle": 270, "titleBaseline": "alphabetic", "titleAlign": "center"}}
      }
    },
    {
      "data": {"name": "flux"},
      "transform": [{"filter": "datum.s == 2"}],
      "mark": {"type": "line", "color": "#cc0000", "strokeWidth": 3.5, "interpolate": "step", "clip": true},
      "encoding": {
        "x": {"field": "t", "type": "quantitative", "scale": {"domain": [0, 1250], "nice": false, "zero": false},
              "axis": {"orient": "bottom", "values": [0,200,400,600,800,1000,1200], "labels": false, "domain": false, "tickSize": -19, "title": null}},
        "y": {"field": "f", "type": "quantitative", "scale": {"domain": [-1000, 1000], "nice": false, "zero": false},
              "axis": {"orient": "left", "values": [-1000,-500,0,500,1000], "labels": false, "domain": false, "tickSize": -29, "title": null}}
      }
    },
    {
      "data": {"name": "qlabels"},
      "mark": {"type": "text", "font": "DejaVu Serif", "fontSize": 40, "color": "#111111", "align": "center", "baseline": "alphabetic"},
      "encoding": {
        "x": {"field": "qx", "type": "quantitative", "scale": {"domain": [0, 1250], "nice": false, "zero": false},
              "axis": {"orient": "top", "values": [0,200,400,600,800,1000,1200], "labels": false, "domain": true, "tickSize": -19, "title": null}},
        "y": {"datum": 795, "type": "quantitative", "scale": {"domain": [-1000, 1000], "nice": false, "zero": false},
              "axis": {"orient": "right", "values": [-1000,-500,0,500,1000], "labels": false, "domain": true, "tickSize": -29, "title": null}},
        "text": {"field": "q", "type": "nominal"}
      }
    },
    {
      "data": {"name": "marks"},
      "mark": {"type": "rule", "color": "#cc0000", "strokeWidth": 2},
      "encoding": {
        "x": {"field": "x0", "type": "quantitative", "scale": {"domain": [0, 1250], "nice": false, "zero": false},
              "axis": {"orient": "top", "values": [0,50,100,150,200,250,300,350,400,450,500,550,600,650,700,750,800,850,900,950,1000,1050,1100,1150,1200,1250], "labels": false, "domain": false, "tickSize": -9.5, "title": null}},
        "x2": {"field": "x1"},
        "y": {"field": "v", "type": "quantitative", "scale": {"domain": [-1000, 1000], "nice": false, "zero": false},
              "axis": {"orient": "right", "values": [-1000,-900,-800,-700,-600,-500,-400,-300,-200,-100,0,100,200,300,400,500,600,700,800,900,1000], "labels": false, "domain": false, "tickSize": -14, "title": null}}
      }
    }
  ],
  "resolve": {"axis": {"x": "independent", "y": "independent"}}
}
